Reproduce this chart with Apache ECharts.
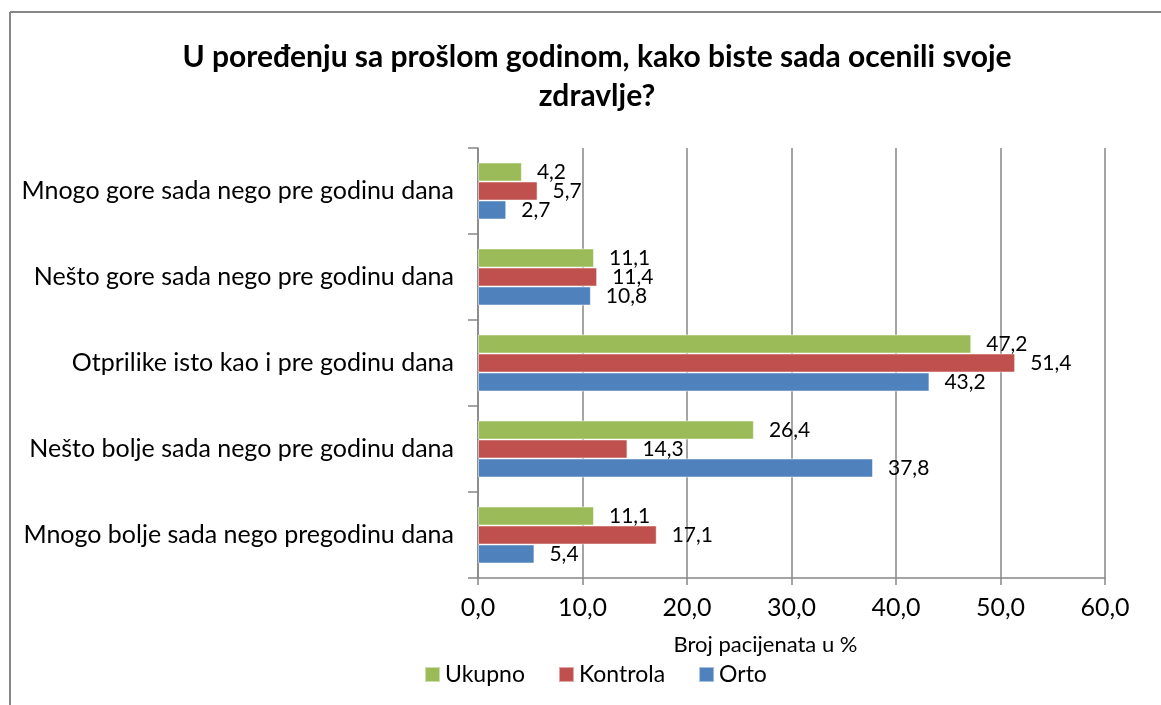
<!DOCTYPE html>
<html>
<head>
<meta charset="utf-8">
<script src="https://cdn.jsdelivr.net/npm/echarts@6/dist/echarts.min.js"></script>
<style>
  html, body { margin: 0; padding: 0; background: #fff; }
  #chart { width: 1161px; height: 705px; }
</style>
</head>
<body>
<div id="chart"></div>
<script>
// categories bottom to top (Excel order)
const categories = [
  'Mnogo bolje sada nego pregodinu dana',
  'Nešto bolje sada nego pre godinu dana',
  'Otprilike isto kao i pre godinu dana',
  'Nešto gore sada nego pre godinu dana',
  'Mnogo gore sada nego pre godinu dana'
]
const orto = [5.4, 37.8, 43.2, 10.8, 2.7]
const kontrola = [17.1, 14.3, 51.4, 11.4, 5.7]
const ukupno = [11.1, 26.4, 47.2, 11.1, 4.2]

const font = 'Lato, "Noto Sans", sans-serif'
const fmt = v => v.toFixed(1).replace('.', ',')

const chart = echarts.init(document.getElementById('chart'))

const mkSeries = (name, data, color) => ({
  name,
  type: 'bar',
  data,
  barWidth: 19,
  barGap: '0%',
  itemStyle: { color, borderColor: 'rgba(255,255,255,0.5)', borderWidth: 1 },
  label: {
    show: true,
    position: 'right',
    distance: 15,
    color: '#000',
    fontFamily: font,
    fontSize: 21,
    formatter: p => fmt(p.value)
  }
})

chart.setOption({
  animation: false,
  title: {
    text: 'U poređenju sa prošlom godinom, kako biste sada ocenili svoje\nzdravlje?',
    left: 592,
    textAlign: 'center',
    top: 33,
    textStyle: {
      fontFamily: font,
      fontWeight: 'bold',
      fontSize: 30,
      lineHeight: 39,
      color: '#000'
    }
  },
  legend: {
    data: ['Ukupno', 'Kontrola', 'Orto'],
    left: 424,
    top: 663,
    padding: 0,
    icon: 'rect',
    itemWidth: 15,
    itemHeight: 15,
    itemGap: 33,
    textStyle: { fontFamily: font, fontSize: 23, color: '#000' }
  },
  grid: { left: 478, right: 56, top: 148, bottom: 127 },
  xAxis: {
    type: 'value',
    min: 0,
    max: 60,
    interval: 10,
    name: 'Broj pacijenata u %',
    nameLocation: 'middle',
    nameGap: 56,
    nameTextStyle: { fontFamily: font, fontSize: 22, color: '#000', padding: [0, 52, 0, 0] },
    axisLine: { show: true, lineStyle: { color: '#868686', width: 1.5 } },
    axisTick: { show: true, length: 7, lineStyle: { color: '#868686', width: 1.5 } },
    axisLabel: { formatter: fmt, fontFamily: font, fontSize: 25, color: '#000', margin: 17 },
    splitLine: { show: true, lineStyle: { color: '#868686', width: 1.5 } }
  },
  yAxis: {
    type: 'category',
    data: categories,
    axisLine: { show: true, lineStyle: { color: '#868686', width: 1.5 } },
    axisTick: { show: true, length: 10, lineStyle: { color: '#868686', width: 1.5 } },
    axisLabel: { fontFamily: font, fontSize: 25, color: '#000', margin: 24 }
  },
  graphic: [
    { type: 'line', shape: { x1: 10, y1: 12, x2: 10, y2: 705 }, style: { stroke: '#878787', lineWidth: 2 } },
    { type: 'line', shape: { x1: 10, y1: 12, x2: 1161, y2: 12 }, style: { stroke: '#878787', lineWidth: 2 } }
  ],
  // on a vertical category axis ECharts stacks the first series on top
  series: [
    mkSeries('Ukupno', ukupno, '#9BBB59'),
    mkSeries('Kontrola', kontrola, '#C0504D'),
    mkSeries('Orto', orto, '#4F81BD')
  ]
})
</script>
</body>
</html>
